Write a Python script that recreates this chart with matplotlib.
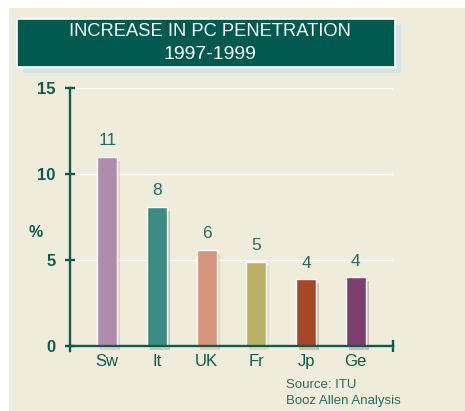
import matplotlib
matplotlib.use("Agg")
import matplotlib.pyplot as plt
from matplotlib import font_manager
from matplotlib.patches import Rectangle
from matplotlib.transforms import ScaledTranslation

countries = ["Sw", "It", "UK", "Fr", "Jp", "Ge"]
increase = [11.0, 8.1, 5.6, 4.9, 3.9, 4.0]
bar_colors = ["#b08cac", "#3c8a82", "#d4957c", "#bab166", "#a5482a", "#7a3f6e"]
y_ticks = [0, 5, 10, 15]
title_lines = ["INCREASE IN PC PENETRATION", "1997-1999"]
source_lines = ["Source: ITU", "Booz Allen Analysis"]

CREAM = "#f0ecdb"
DARK = "#0d5a4e"
TEAL_TEXT = "#2a6b61"
BOX = "#02594f"
BOX_SHADOW = "#d5e5e3"


def pick_font(*names):
    for name in names:
        try:
            font_manager.findfont(name, fallback_to_default=False)
            return name
        except ValueError:
            continue
    return "DejaVu Sans"


base_font = pick_font("Liberation Sans", "Arial")
narrow_font = pick_font("Liberation Sans Narrow", "Arial Narrow", "Liberation Sans")
plt.rcParams["font.family"] = base_font

fig = plt.figure(figsize=(4.65, 4.11), dpi=100, facecolor="white")

# cream panel behind everything
fig.patches.append(Rectangle((9 / 465, 0), 1 - 9 / 465, 1 - 8 / 411,
                             transform=fig.transFigure, fc=CREAM, ec="none", zorder=-10))

# title box with its offset shadow
bx, by, bw, bh = 17.3 / 465, 1 - 66.7 / 411, 377.7 / 465, 48 / 411
fig.patches.append(Rectangle((bx + 6 / 465, by - 6 / 411), bw, bh,
                             transform=fig.transFigure, fc=BOX_SHADOW, ec="none", zorder=1))
fig.patches.append(Rectangle((bx, by), bw, bh, transform=fig.transFigure,
                             fc=BOX, ec="white", lw=1.2, zorder=2))
fig.text(210 / 465, 1 - 32 / 411, title_lines[0], color="white", fontsize=13.2,
         family=narrow_font, ha="center", va="center", zorder=3)
fig.text(210 / 465, 1 - 54 / 411, title_lines[1], color="white", fontsize=14,
         family=narrow_font, ha="center", va="center", zorder=3)

ax = fig.add_axes([70 / 465, 1 - 351.2 / 411, 323 / 465, 263.2 / 411])
ax.set_facecolor("none")
ax.set_zorder(5)
ax.set_xlim(-0.75, 5.75)
ax.set_ylim(-0.3, 15)

x = range(len(countries))

# soft shadows, nudged right and down
shadow = ax.bar(x, increase, width=0.4, bottom=0, color=bar_colors, alpha=0.3,
                linewidth=0, zorder=1)
for patch in shadow:
    patch.set_transform(ax.transData + ScaledTranslation(3 / 100, -4 / 100, fig.dpi_scale_trans))

bars = ax.bar(x, increase, width=0.4, color=bar_colors, edgecolor="white",
              linewidth=1.0, zorder=2)

for rect, val in zip(bars, increase):
    ax.annotate(f"{val:.0f}", (rect.get_x() + rect.get_width() / 2, val),
                xytext=(0, 6), textcoords="offset points", ha="center", va="bottom",
                fontsize=12.5, color=TEAL_TEXT)

ax.yaxis.grid(True, color="white", lw=1.0)
ax.set_axisbelow(True)

for side in ("top", "right"):
    ax.spines[side].set_visible(False)
ax.spines["bottom"].set_position(("data", 0))
for side in ("left", "bottom"):
    ax.spines[side].set_color(DARK)
    ax.spines[side].set_linewidth(1.7)

ax.set_yticks(y_ticks)
ax.set_yticklabels([str(t) for t in y_ticks], fontweight="bold")
ax.tick_params(axis="y", direction="inout", length=7, width=1.7, color=DARK,
               labelcolor=DARK, labelsize=12, pad=7)
ax.set_xticks(list(x))
ax.set_xticklabels(countries)
ax.tick_params(axis="x", length=0, labelcolor=DARK, labelsize=12, pad=6)
ax.set_xticks([5.75], minor=True)
ax.tick_params(axis="x", which="minor", direction="inout", length=8, width=1.7, color=DARK)

fig.text(35.5 / 465, 1 - 232 / 411, "%", color=DARK, fontsize=11.5, fontweight="bold",
         ha="center", va="center")

fig.text(285.7 / 465, 1 - 385 / 411, source_lines[0], color=TEAL_TEXT, fontsize=9.5,
         ha="left", va="center")
fig.text(285.7 / 465, 1 - 401 / 411, source_lines[1], color=TEAL_TEXT, fontsize=9.5,
         ha="left", va="center")

fig.savefig("out.png", dpi=100, facecolor=fig.get_facecolor())
